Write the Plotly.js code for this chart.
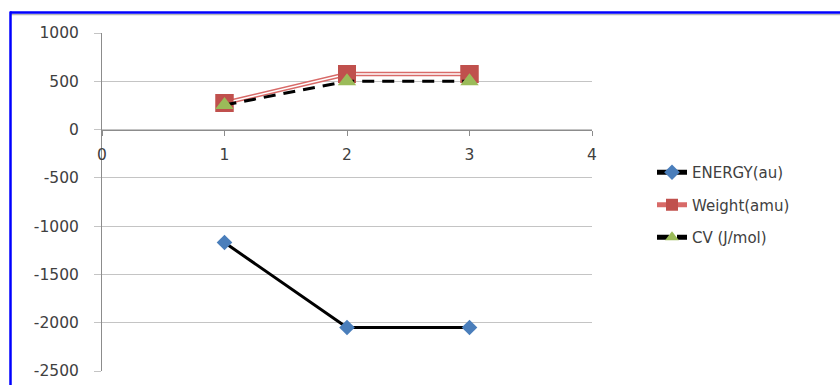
<!DOCTYPE html>
<html>
<head>
<meta charset="utf-8">
<script src="https://cdn.plot.ly/plotly-3.0.1.min.js"></script>
<style>
  html, body { margin: 0; padding: 0; background: #ffffff; }
  #chart { width: 840px; height: 385px; }
</style>
</head>
<body>
<div id="chart"></div>
<script>
// Series data
const xValues = [1, 2, 3];
const energyAu = [-1170, -2050, -2050];
const weightAmu = [275, 575, 575];
const cvJmol = [255, 500, 500];
const seriesNames = ['ENERGY(au)', 'Weight(amu)', 'CV (J/mol)'];

// Axis ticks (plain hyphen for negatives)
const yTickVals = [1000, 500, 0, -500, -1000, -1500, -2000, -2500];
const yTickText = ['1000', '500', '0', '-500', '-1000', '-1500', '-2000', '-2500'];
const xTickVals = [0, 1, 2, 3, 4];
const xTickText = ['0', '1', '2', '3', '4'];

// Plot-area pixel geometry, used for placing the frame and legend in paper units
const W = 840, H = 385;
const M = { l: 102, r: 248, t: 33, b: 14 };
const plotW = W - M.l - M.r;
const plotH = H - M.t - M.b;
const px2x = px => (px - M.l) / plotW;
const px2y = py => (H - M.b - py) / plotH;

const traces = [
  {
    x: xValues, y: energyAu, name: seriesNames[0], mode: 'lines+markers',
    line: { color: '#000000', width: 3 },
    marker: { symbol: 'diamond', size: 12, color: '#4a7ebb' },
    legendgroup: 'a'
  },
  {
    x: xValues, y: weightAmu, name: seriesNames[1], mode: 'lines+markers',
    line: { color: '#d86a68', width: 4.5 },
    marker: { symbol: 'square', size: 18, color: '#c0504d' },
    legendgroup: 'b'
  },
  // white core of the double-stroked weight line
  {
    x: xValues, y: weightAmu, mode: 'lines', showlegend: false, hoverinfo: 'skip',
    line: { color: '#ffffff', width: 1.4 },
    legendgroup: 'b'
  },
  {
    x: xValues, y: weightAmu, mode: 'markers', showlegend: false, hoverinfo: 'skip',
    marker: { symbol: 'square', size: 18, color: '#c0504d' },
    legendgroup: 'b'
  },
  {
    x: xValues, y: cvJmol, name: seriesNames[2], mode: 'lines+markers',
    line: { color: '#000000', width: 3, dash: '12px,8px' },
    marker: { symbol: 'triangle-up', size: 16, color: '#9bbb59' },
    legendgroup: 'c'
  }
];

const fontFam = 'DejaVu Sans, Liberation Sans, sans-serif';

const layout = {
  width: W, height: H,
  margin: M,
  paper_bgcolor: '#ffffff',
  plot_bgcolor: '#ffffff',
  font: { family: fontFam, size: 15, color: '#404040' },
  showlegend: true,
  legend: {
    x: px2x(652), y: px2y(156), xanchor: 'left', yanchor: 'top',
    font: { family: fontFam, size: 15, color: '#404040' },
    traceorder: 'grouped', tracegroupgap: 10,
    itemsizing: 'constant',
    bgcolor: 'rgba(0,0,0,0)'
  },
  xaxis: {
    range: [0, 4], tickmode: 'array', tickvals: xTickVals, ticktext: xTickText,
    anchor: 'free', position: 2500 / 3500,
    showgrid: false, zeroline: false,
    showline: true, linecolor: '#8c8c8c', linewidth: 1,
    ticks: 'outside', ticklen: 5, tickcolor: '#8c8c8c',
    ticklabelstandoff: 6,
    tickfont: { family: fontFam, size: 15.5, color: '#404040' }
  },
  yaxis: {
    range: [-2500, 1000], tickmode: 'array', tickvals: yTickVals, ticktext: yTickText,
    showgrid: true, gridcolor: '#c4c4c4', gridwidth: 1,
    zeroline: false,
    showline: true, linecolor: '#8c8c8c', linewidth: 1,
    ticks: 'outside', ticklen: 7, tickcolor: '#c4c4c4',
    ticklabelstandoff: 12,
    tickfont: { family: fontFam, size: 15.5, color: '#404040' }
  },
  shapes: [
    // top and left edges of the blue frame
    { type: 'line', xref: 'paper', yref: 'paper',
      x0: px2x(10), x1: px2x(W + 2), y0: px2y(14.5), y1: px2y(14.5),
      line: { color: '#b8b8b8', width: 1.5 } },
    { type: 'line', xref: 'paper', yref: 'paper',
      x0: px2x(10), x1: px2x(W + 2), y0: px2y(12.5), y1: px2y(12.5),
      line: { color: '#0000ff', width: 2.5 } },
    { type: 'line', xref: 'paper', yref: 'paper',
      x0: px2x(10.5), x1: px2x(10.5), y0: px2y(11.5), y1: px2y(H + 2),
      line: { color: '#0000ff', width: 2.5 } }
  ]
};

Plotly.newPlot('chart', traces, layout, { staticPlot: true, displayModeBar: false });
</script>
</body>
</html>
